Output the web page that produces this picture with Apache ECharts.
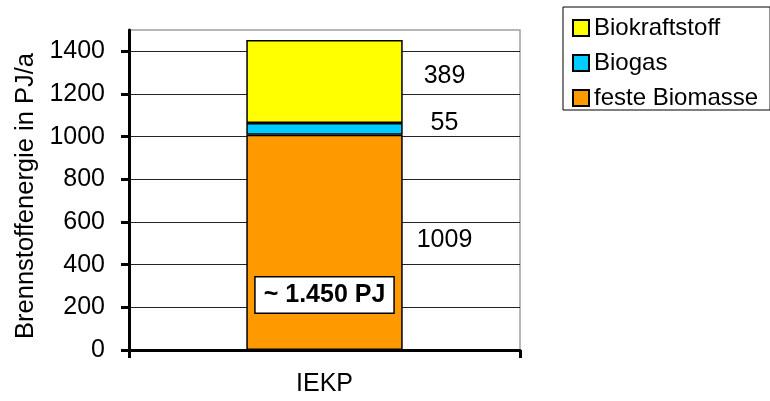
<!DOCTYPE html>
<html>
<head>
<meta charset="utf-8">
<script src="https://cdn.jsdelivr.net/npm/echarts@6/dist/echarts.min.js"></script>
<style>
  html, body { margin: 0; padding: 0; background: #fff; }
  #chart { width: 770px; height: 401px; }
</style>
</head>
<body>
<div id="chart"></div>
<script>
// Fuel energy from biomass, stacked by fuel type (PJ per year)
const categories = ['IEKP'];
const festeBiomasse = [1009];
const biogas = [55];
const biokraftstoff = [389];
const yTicks = [0, 200, 400, 600, 800, 1000, 1200, 1400];
const totalNote = '~ 1.450 PJ';

const FONT = 'Liberation Sans, Arial, sans-serif';

const chart = echarts.init(document.getElementById('chart'), null, { renderer: 'canvas' });

function valueLabel(dy) {
  return {
    show: true,
    position: 'inside',
    offset: [120, dy],
    color: '#000',
    fontFamily: FONT,
    fontSize: 25
  };
}

const barBorder = { borderColor: '#000', borderWidth: 1.5 };

chart.setOption({
  animation: false,
  textStyle: { fontFamily: FONT },
  grid: {
    left: 129, right: 250, top: 30, bottom: 51,
    show: true, borderColor: '#a0a0a0', borderWidth: 1.5, backgroundColor: 'transparent'
  },
  legend: {
    data: ['Biokraftstoff', 'Biogas', 'feste Biomasse'],
    orient: 'vertical',
    left: 563, top: 7,
    padding: [9, 12, 0, 9],
    itemWidth: 16, itemHeight: 16, itemGap: 11,
    borderColor: '#000', borderWidth: 1,
    icon: 'rect',
    textStyle: { fontFamily: FONT, fontSize: 24, color: '#000', lineHeight: 18 }
  },
  xAxis: {
    type: 'category',
    data: categories,
    axisLine: { lineStyle: { color: '#000', width: 3 } },
    axisTick: { show: true, length: 8, lineStyle: { color: '#000', width: 3 } },
    axisLabel: { color: '#000', fontFamily: FONT, fontSize: 25, margin: 22 }
  },
  yAxis: {
    type: 'value',
    min: 0, max: 1500, interval: 200,
    name: 'Brennstoffenergie in PJ/a',
    nameLocation: 'middle',
    nameGap: 89,
    nameTextStyle: { color: '#000', fontFamily: FONT, fontSize: 25.5, padding: [0, 12, 0, 0] },
    axisLine: { show: true, lineStyle: { color: '#000', width: 3 } },
    axisTick: { show: true, length: 8, lineStyle: { color: '#000', width: 3 }, customValues: yTicks },
    axisLabel: {
      color: '#000', fontFamily: FONT, fontSize: 25, margin: 24,
      customValues: yTicks,
      formatter: function (v) { return String(v); }
    },
    splitLine: {
      show: true,
      lineStyle: {
        color: ['#222', '#222', '#222', '#222', '#222', '#222', '#222', '#222', '#a0a0a0'],
        width: 1
      }
    }
  },
  series: [
    {
      name: 'feste Biomasse',
      type: 'bar',
      stack: 'total',
      barWidth: '40%',
      data: festeBiomasse,
      itemStyle: Object.assign({ color: '#FF9900' }, barBorder),
      label: valueLabel(-2),
      markPoint: {
        symbol: 'rect',
        symbolSize: [1, 1],
        itemStyle: { color: 'rgba(0,0,0,0)' },
        data: [{ coord: [categories[0], 258], value: totalNote }],
        label: {
          show: true,
          position: 'inside',
          formatter: totalNote,
          color: '#000',
          fontFamily: FONT,
          fontWeight: 'bold',
          fontSize: 25,
          lineHeight: 26,
          backgroundColor: '#fff',
          borderColor: '#000',
          borderWidth: 1.5,
          padding: [5, 8, 4, 8]
        }
      }
    },
    {
      name: 'Biogas',
      type: 'bar',
      stack: 'total',
      barWidth: '40%',
      data: biogas,
      itemStyle: Object.assign({ color: '#00CCFF' }, barBorder),
      label: valueLabel(-6)
    },
    {
      name: 'Biokraftstoff',
      type: 'bar',
      stack: 'total',
      barWidth: '40%',
      data: biokraftstoff,
      itemStyle: Object.assign({ color: '#FFFF00' }, barBorder),
      label: valueLabel(-5)
    }
  ]
});
</script>
</body>
</html>
